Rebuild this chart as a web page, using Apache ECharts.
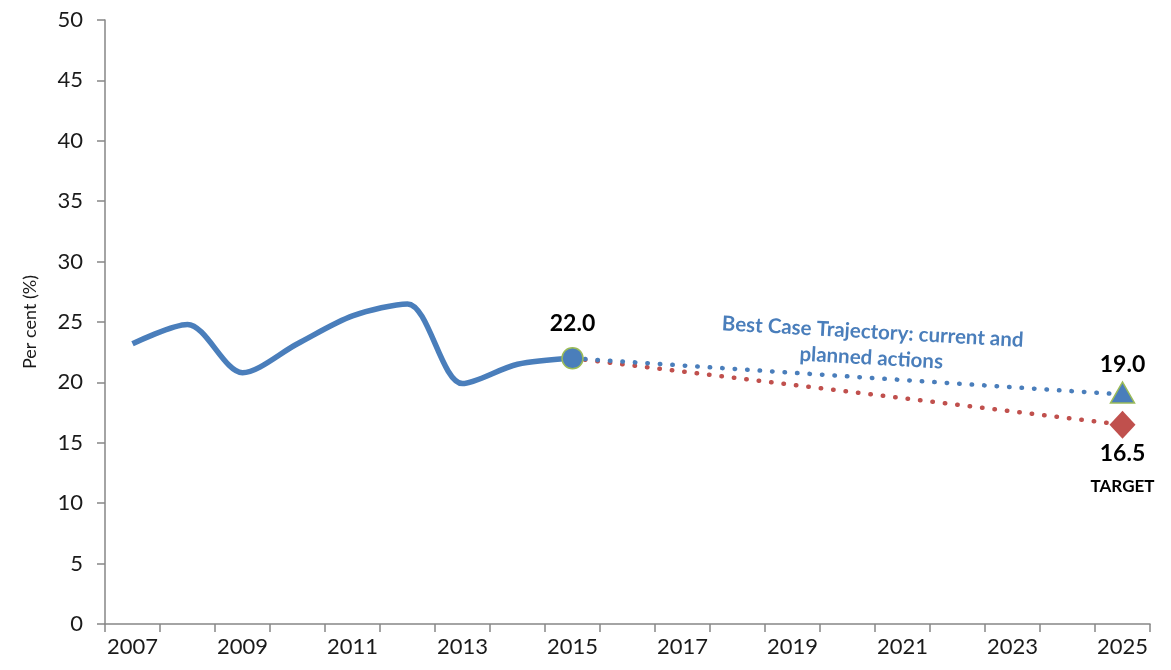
<!DOCTYPE html>
<html>
<head>
<meta charset="utf-8">
<script src="https://cdn.jsdelivr.net/npm/echarts@6/dist/echarts.min.js"></script>
<style>
  html, body { margin: 0; padding: 0; background: #fff; }
  #main { width: 1171px; height: 670px; }
</style>
</head>
<body>
<div id="main"></div>
<script>
// data
const years = ["2007", "2008", "2009", "2010", "2011", "2012", "2013", "2014", "2015",
  "2016", "2017", "2018", "2019", "2020", "2021", "2022", "2023", "2024", "2025"];
const history = [23.2, 24.8, 20.8, 23.2, 25.5, 26.5, 19.9, 21.5, 22.0];
const bestCase = { start: 22.0, end: 19.0 };
const target = { start: 22.0, end: 16.5 };
const yTicks = { min: 0, max: 50, step: 5 };

const blue = "#4a7ebb";
const red = "#c0504d";
const green = "#9bbb59";
const axisGrey = "#868686";
const font = "Lato";

// pad a series out to the full x range
function fill(arr, from) {
  const out = new Array(years.length).fill(null);
  arr.forEach((v, i) => { out[from + i] = v; });
  return out;
}

const histData = fill(history, 0).map((v, i) => {
  if (i !== history.length - 1) return v;
  return {
    value: v,
    symbol: "circle",
    symbolSize: 21,
    itemStyle: { color: blue, borderColor: green, borderWidth: 1.5 },
    label: {
      show: true, position: "top", distance: 12,
      formatter: v.toFixed(1),
      fontFamily: font, fontWeight: "bold", fontSize: 23, color: "#000"
    }
  };
});

const last = years.length - 1;
const startIdx = history.length - 1;

const bestData = new Array(years.length).fill(null);
bestData[startIdx] = bestCase.start;
bestData[last] = {
  value: bestCase.end,
  symbol: "triangle",
  symbolSize: [24, 21],
  symbolOffset: [0, -2],
  itemStyle: { color: blue, borderColor: green, borderWidth: 1.5 },
  label: {
    show: true, position: "top", distance: 5,
    formatter: bestCase.end.toFixed(1),
    fontFamily: font, fontWeight: "bold", fontSize: 23, color: "#000"
  }
};

const targetData = new Array(years.length).fill(null);
targetData[startIdx] = target.start;
targetData[last] = {
  value: target.end,
  symbol: "diamond",
  symbolSize: [26, 28],
  itemStyle: { color: red },
  label: {
    show: true, position: "bottom", distance: 0,
    formatter: "{a|" + target.end.toFixed(1) + "}\n{b|TARGET}",
    rich: {
      a: { fontFamily: font, fontWeight: "bold", fontSize: 23, color: "#000", lineHeight: 30 },
      b: { fontFamily: font, fontWeight: "bold", fontSize: 17, color: "#000", lineHeight: 36 }
    }
  }
};

const dotted = { type: [0.5, 12], cap: "round", width: 4.5 };

const chart = echarts.init(document.getElementById("main"));
chart.setOption({
  animation: false,
  backgroundColor: "#fff",
  grid: { left: 105, right: 21, top: 20, bottom: 46 },
  xAxis: {
    type: "category",
    data: years,
    boundaryGap: true,
    axisLine: { lineStyle: { color: axisGrey, width: 1.5 } },
    axisTick: { show: true, interval: 0, length: 8, lineStyle: { color: axisGrey, width: 1.5 } },
    axisLabel: { interval: 1, fontFamily: font, fontSize: 22, color: "#1a1a1a", margin: 12 },
    splitLine: { show: false }
  },
  yAxis: {
    type: "value",
    min: yTicks.min, max: yTicks.max, interval: yTicks.step,
    name: "Per cent (%)",
    nameLocation: "middle",
    nameGap: 66,
    nameTextStyle: { fontFamily: font, fontSize: 18, color: "#1a1a1a" },
    axisLine: { show: true, lineStyle: { color: axisGrey, width: 1.5 } },
    axisTick: { show: true, length: 8, lineStyle: { color: axisGrey, width: 1.5 } },
    axisLabel: { fontFamily: font, fontSize: 22, color: "#1a1a1a", margin: 22 },
    splitLine: { show: false }
  },
  series: [
    {
      name: "Target",
      type: "line",
      data: targetData,
      connectNulls: true,
      symbol: "none",
      lineStyle: Object.assign({ color: red }, dotted),
      itemStyle: { color: red },
      z: 2
    },
    {
      name: "Best case",
      type: "line",
      data: bestData,
      connectNulls: true,
      symbol: "none",
      lineStyle: Object.assign({ color: blue }, dotted),
      itemStyle: { color: blue },
      z: 3
    },
    {
      name: "History",
      type: "line",
      data: histData,
      smooth: 0.3,
      symbol: "none",
      lineStyle: { color: blue, width: 5.5 },
      itemStyle: { color: blue },
      z: 4
    }
  ],
  graphic: [
    {
      type: "text",
      x: 872, y: 345,
      rotation: -0.055,
      style: {
        text: "Best Case Trajectory: current and\nplanned actions",
        align: "center", verticalAlign: "middle",
        fontFamily: font, fontWeight: "bold", fontSize: 20.5, lineHeight: 26,
        fill: blue
      }
    }
  ]
});
</script>
</body>
</html>
